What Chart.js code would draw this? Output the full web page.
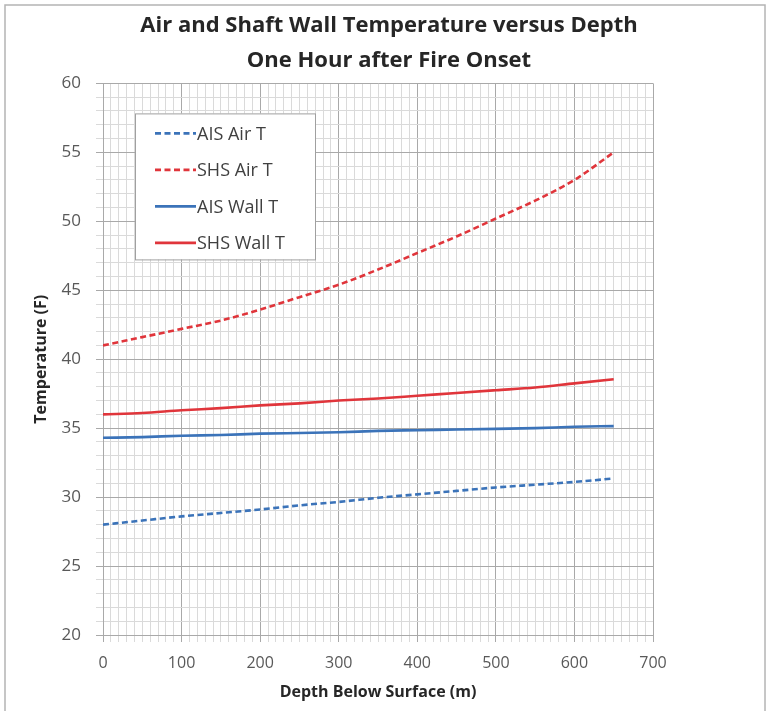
<!DOCTYPE html>
<html>
<head>
<meta charset="utf-8">
<script src="https://cdn.jsdelivr.net/npm/chart.js@4/dist/chart.umd.min.js"></script>
<style>
  html, body { margin: 0; padding: 0; background: #fff; }
  #wrap { position: relative; width: 768px; height: 711px; }
</style>
</head>
<body>
<div id="wrap"><canvas id="main-chart" width="768" height="711"></canvas></div>
<script>
// ── Data ──────────────────────────────────────────────────────────
const depths     = [0, 50, 100, 150, 200, 250, 300, 350, 400, 450, 500, 550, 600, 650];
const aisAirT    = [28.0, 28.3, 28.6, 28.85, 29.1, 29.4, 29.65, 29.95, 30.2, 30.45, 30.7, 30.9, 31.1, 31.35];
const shsAirT    = [41.0, 41.6, 42.2, 42.8, 43.6, 44.5, 45.4, 46.5, 47.7, 48.9, 50.2, 51.5, 53.0, 55.0];
const aisWallT   = [34.3, 34.35, 34.45, 34.5, 34.6, 34.65, 34.7, 34.8, 34.85, 34.9, 34.95, 35.0, 35.1, 35.15];
const shsWallT   = [36.0, 36.1, 36.3, 36.45, 36.65, 36.8, 37.0, 37.15, 37.35, 37.55, 37.75, 37.95, 38.25, 38.55];
const seriesNames = ['AIS Air T', 'SHS Air T', 'AIS Wall T', 'SHS Wall T'];
const titleLines  = ['Air and Shaft Wall Temperature versus Depth', 'One Hour after Fire Onset'];

const FONT = "'Open Sans', 'Liberation Sans', sans-serif";
const clr = {
  blue:   '#3b73b9',
  red:    '#e0353b',
  major:  '#a9a9a9',
  minor:  '#dadada',
  tick:   '#595959',
  text:   '#262626',
};

const pts = vals => vals.map((v, i) => ({ x: depths[i], y: v }));

function mkSet(label, vals, color, dashed) {
  return {
    label,
    data: pts(vals),
    borderColor: color,
    backgroundColor: color,
    borderWidth: 2.6,
    borderDash: dashed ? [6, 3.5] : [],
    pointRadius: 0,
    cubicInterpolationMode: 'monotone',
    fill: false,
  };
}

// frame round the whole picture
const framePlugin = {
  id: 'frame',
  beforeDraw(chart) {
    const c = chart.ctx;
    c.save();
    c.fillStyle = '#fff';
    c.fillRect(0, 0, chart.width, chart.height);
    c.strokeStyle = '#b4b4b4';
    c.lineWidth = 1.5;
    c.strokeRect(5, 5, 760, 720);
    c.restore();
  },
};

// boxed legend inside the plot, like the Excel one
const boxLegend = {
  id: 'boxLegend',
  afterDraw(chart) {
    const c = chart.ctx;
    const a = chart.chartArea;
    const x0 = a.left + 32, y0 = a.top + 30, w = 180, h = 146;
    c.save();
    c.fillStyle = '#fff';
    c.fillRect(x0, y0, w, h);
    c.strokeStyle = '#a0a0a0';
    c.lineWidth = 1;
    c.strokeRect(x0 + 0.5, y0 + 0.5, w, h);
    c.font = '18px ' + FONT;
    c.textBaseline = 'middle';
    chart.data.datasets.forEach((ds, i) => {
      const y = y0 + 20 + i * 36.5;
      c.strokeStyle = ds.borderColor;
      c.lineWidth = 2.6;
      c.setLineDash(ds.borderDash);
      c.beginPath();
      c.moveTo(x0 + 20, y);
      c.lineTo(x0 + 61, y);
      c.stroke();
      c.setLineDash([]);
      c.fillStyle = '#404040';
      c.fillText(ds.label, x0 + 62, y + 1);
    });
    c.restore();
  },
};

new Chart(document.getElementById('main-chart'), {
  type: 'line',
  data: {
    datasets: [
      mkSet(seriesNames[0], aisAirT, clr.blue, true),
      mkSet(seriesNames[1], shsAirT, clr.red, true),
      mkSet(seriesNames[2], aisWallT, clr.blue, false),
      mkSet(seriesNames[3], shsWallT, clr.red, false),
    ],
  },
  options: {
    responsive: false,
    animation: false,
    layout: { padding: { left: 10, right: 0, top: 0, bottom: 5 } },
    plugins: {
      legend: { display: false },
      tooltip: { enabled: false },
      title: {
        display: true,
        text: titleLines,
        color: clr.text,
        font: { family: FONT, size: 22, weight: 'bold', lineHeight: 1.6 },
        padding: { top: 8, bottom: 5 },
      },
    },
    scales: {
      x: {
        type: 'linear',
        min: 0,
        max: 700,
        afterFit: s => { s.height = 71; },
        grid: {
          color: ctx => ctx.tick && ctx.tick.value % 100 === 0 ? clr.major : clr.minor,
          lineWidth: 1,
          tickLength: 7,
          tickColor: ctx => ctx.tick && ctx.tick.value % 100 === 0 ? clr.major : clr.minor,
        },
        border: { color: clr.major },
        ticks: {
          stepSize: 10,
          autoSkip: false,
          maxRotation: 0,
          padding: 12,
          color: clr.tick,
          font: { family: FONT, size: 16 },
          callback: v => (v % 100 === 0 ? String(v) : ''),
        },
        title: {
          display: true,
          text: 'Depth Below Surface (m)',
          color: clr.text,
          font: { family: FONT, size: 16, weight: 'bold' },
          padding: { top: 0, bottom: 4 },
        },
      },
      y: {
        min: 20,
        max: 60,
        afterFit: s => { s.width = 93; },
        grid: {
          color: ctx => ctx.tick && ctx.tick.value % 5 === 0 ? clr.major : clr.minor,
          lineWidth: 1,
          tickLength: 7,
          tickColor: ctx => ctx.tick && ctx.tick.value % 5 === 0 ? clr.major : clr.minor,
        },
        border: { color: clr.major },
        ticks: {
          stepSize: 1,
          autoSkip: false,
          padding: 15,
          color: clr.tick,
          font: { family: FONT, size: 17 },
          callback: v => (v % 5 === 0 ? String(v) : ''),
        },
        title: {
          display: true,
          text: 'Temperature (F)',
          color: clr.text,
          font: { family: FONT, size: 16, weight: 'bold' },
          padding: { top: 22, bottom: 0 },
        },
      },
      // blank right-hand margin, keeps the title centred on the full width
      yPad: {
        position: 'right',
        display: true,
        afterFit: s => { s.width = 115; },
        grid: { display: false, drawTicks: false },
        border: { display: false },
        ticks: { display: false },
      },
    },
  },
  plugins: [framePlugin, boxLegend],
});
</script>
</body>
</html>
